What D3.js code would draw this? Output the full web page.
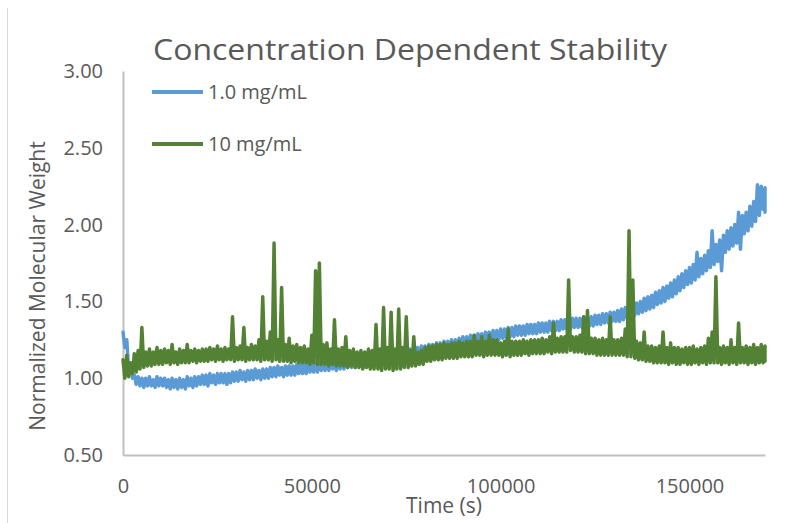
<!DOCTYPE html>
<html>
<head>
<meta charset="utf-8">
<script src="https://cdn.jsdelivr.net/npm/d3@7"></script>
<style>
  html, body { margin: 0; padding: 0; background: #ffffff; }
  svg { display: block; }
  text { font-family: "Open Sans", "Noto Sans", sans-serif; fill: #595959; }
</style>
</head>
<body>
<svg id="chart" width="800" height="523"></svg>
<script>
// ---- data ----
const chartTitle = "Concentration Dependent Stability";
const xAxisTitle = "Time (s)";
const yAxisTitle = "Normalized Molecular Weight";
const seriesNames = ["1.0 mg/mL", "10 mg/mL"];
const xTicks = [0, 50000, 100000, 150000];
const yTicks = [0.50, 1.00, 1.50, 2.00, 2.50, 3.00];
const binSeconds = 1000; // each entry = high / low of the noisy signal in a 1000 s bin

// 1.0 mg/mL : band high and low per 1000 s bin, 0 .. 170000 s
const blueHigh = [
  1.30, 1.25, 1.08, 1.02, 1.01, 1.00, 1.00, 1.01, 0.99, 1.01,
  1.00, 1.00, 0.99, 1.00, 0.99, 1.00, 0.99, 1.01, 1.00, 1.01,
  1.01, 1.02, 1.02, 1.03, 1.02, 1.03, 1.03, 1.03, 1.03, 1.04,
  1.04, 1.05, 1.04, 1.05, 1.05, 1.06, 1.05, 1.06, 1.06, 1.07,
  1.07, 1.08, 1.07, 1.08, 1.08, 1.08, 1.09, 1.09, 1.09, 1.10,
  1.10, 1.10, 1.11, 1.11, 1.11, 1.12, 1.11, 1.12, 1.12, 1.13,
  1.13, 1.13, 1.14, 1.14, 1.14, 1.15, 1.15, 1.15, 1.16, 1.16,
  1.16, 1.17, 1.17, 1.18, 1.18, 1.19, 1.19, 1.20, 1.20, 1.21,
  1.21, 1.22, 1.22, 1.23, 1.23, 1.24, 1.24, 1.25, 1.25, 1.26,
  1.27, 1.27, 1.28, 1.28, 1.29, 1.29, 1.30, 1.30, 1.31, 1.31,
  1.32, 1.32, 1.33, 1.33, 1.34, 1.34, 1.34, 1.35, 1.35, 1.35,
  1.36, 1.36, 1.36, 1.37, 1.37, 1.37, 1.38, 1.38, 1.38, 1.39,
  1.39, 1.39, 1.40, 1.40, 1.40, 1.41, 1.41, 1.42, 1.42, 1.43,
  1.43, 1.44, 1.45, 1.46, 1.47, 1.48, 1.49, 1.50, 1.52, 1.53,
  1.54, 1.56, 1.57, 1.59, 1.60, 1.62, 1.64, 1.66, 1.68, 1.70,
  1.72, 1.74, 1.82, 1.78, 1.80, 1.83, 1.96, 1.87, 1.90, 1.93,
  1.96, 1.98, 2.00, 2.08, 2.06, 2.08, 2.12, 2.15, 2.26, 2.25,
  2.24
];
const blueLow = [
  1.20, 1.05, 1.00, 0.96, 0.95, 0.94, 0.95, 0.95, 0.94, 0.95,
  0.95, 0.94, 0.93, 0.94, 0.93, 0.94, 0.93, 0.95, 0.94, 0.95,
  0.96, 0.96, 0.95, 0.97, 0.96, 0.97, 0.97, 0.96, 0.97, 0.98,
  0.98, 0.99, 0.98, 0.99, 0.99, 1.00, 0.99, 1.00, 1.00, 1.01,
  1.01, 1.02, 1.01, 1.02, 1.02, 1.02, 1.03, 1.03, 1.03, 1.04,
  1.04, 1.04, 1.05, 1.05, 1.05, 1.06, 1.05, 1.06, 1.06, 1.07,
  1.07, 1.07, 1.08, 1.08, 1.08, 1.09, 1.09, 1.09, 1.10, 1.10,
  1.10, 1.11, 1.11, 1.12, 1.12, 1.13, 1.13, 1.14, 1.14, 1.15,
  1.15, 1.16, 1.16, 1.17, 1.17, 1.18, 1.18, 1.19, 1.19, 1.20,
  1.21, 1.21, 1.22, 1.22, 1.23, 1.23, 1.24, 1.24, 1.25, 1.25,
  1.26, 1.26, 1.27, 1.27, 1.28, 1.28, 1.28, 1.29, 1.29, 1.29,
  1.30, 1.30, 1.30, 1.31, 1.31, 1.31, 1.32, 1.32, 1.32, 1.33,
  1.33, 1.33, 1.34, 1.34, 1.34, 1.35, 1.35, 1.36, 1.36, 1.37,
  1.37, 1.37, 1.38, 1.39, 1.40, 1.41, 1.42, 1.43, 1.44, 1.45,
  1.46, 1.48, 1.49, 1.50, 1.52, 1.53, 1.55, 1.57, 1.59, 1.61,
  1.62, 1.64, 1.66, 1.68, 1.70, 1.72, 1.74, 1.76, 1.70, 1.82,
  1.84, 1.86, 1.88, 1.84, 1.94, 1.96, 1.99, 2.02, 2.06, 2.10,
  2.08
];

// 10 mg/mL : band high and low per 1000 s bin, 0 .. 170000 s
const greenHigh = [
  1.12, 1.15, 1.10, 1.16, 1.18, 1.33, 1.17, 1.19, 1.17, 1.20,
  1.18, 1.19, 1.18, 1.22, 1.17, 1.19, 1.18, 1.22, 1.18, 1.19,
  1.18, 1.19, 1.19, 1.20, 1.19, 1.21, 1.19, 1.20, 1.19, 1.40,
  1.20, 1.21, 1.33, 1.20, 1.22, 1.21, 1.25, 1.53, 1.24, 1.30,
  1.88, 1.25, 1.59, 1.22, 1.26, 1.21, 1.22, 1.20, 1.21, 1.19,
  1.28, 1.70, 1.75, 1.22, 1.23, 1.19, 1.38, 1.19, 1.20, 1.27,
  1.18, 1.19, 1.17, 1.18, 1.17, 1.19, 1.18, 1.35, 1.19, 1.46,
  1.20, 1.43, 1.19, 1.45, 1.20, 1.40, 1.18, 1.27, 1.17, 1.18,
  1.20, 1.21, 1.21, 1.22, 1.22, 1.23, 1.22, 1.23, 1.23, 1.24,
  1.23, 1.24, 1.24, 1.28, 1.24, 1.27, 1.24, 1.28, 1.25, 1.25,
  1.23, 1.24, 1.32, 1.24, 1.24, 1.24, 1.25, 1.24, 1.25, 1.25,
  1.25, 1.26, 1.25, 1.27, 1.36, 1.26, 1.27, 1.27, 1.64, 1.27,
  1.27, 1.28, 1.40, 1.44, 1.26, 1.26, 1.25, 1.26, 1.25, 1.40,
  1.25, 1.25, 1.26, 1.32, 1.96, 1.64, 1.24, 1.23, 1.30, 1.21,
  1.21, 1.20, 1.21, 1.30, 1.20, 1.23, 1.20, 1.20, 1.19, 1.20,
  1.20, 1.21, 1.19, 1.20, 1.21, 1.26, 1.30, 1.66, 1.20, 1.21,
  1.20, 1.25, 1.20, 1.36, 1.20, 1.21, 1.20, 1.22, 1.20, 1.22,
  1.21
];
const greenLow = [
  1.00, 1.01, 1.03, 1.04, 1.06, 1.07, 1.08, 1.08, 1.09, 1.09,
  1.09, 1.10, 1.09, 1.10, 1.09, 1.10, 1.10, 1.10, 1.11, 1.10,
  1.11, 1.11, 1.11, 1.12, 1.11, 1.12, 1.11, 1.12, 1.12, 1.11,
  1.12, 1.12, 1.11, 1.12, 1.12, 1.12, 1.11, 1.12, 1.12, 1.11,
  1.12, 1.11, 1.11, 1.11, 1.10, 1.11, 1.10, 1.10, 1.10, 1.09,
  1.10, 1.09, 1.09, 1.09, 1.08, 1.09, 1.08, 1.08, 1.08, 1.07,
  1.08, 1.07, 1.07, 1.06, 1.07, 1.06, 1.06, 1.06, 1.05, 1.06,
  1.06, 1.05, 1.06, 1.06, 1.07, 1.07, 1.08, 1.08, 1.09, 1.09,
  1.11, 1.11, 1.12, 1.12, 1.12, 1.13, 1.13, 1.13, 1.13, 1.14,
  1.14, 1.14, 1.14, 1.15, 1.15, 1.14, 1.15, 1.15, 1.15, 1.15,
  1.14, 1.15, 1.14, 1.15, 1.15, 1.15, 1.16, 1.15, 1.16, 1.16,
  1.16, 1.16, 1.17, 1.16, 1.17, 1.17, 1.17, 1.17, 1.18, 1.17,
  1.17, 1.17, 1.16, 1.16, 1.16, 1.15, 1.15, 1.15, 1.15, 1.15,
  1.15, 1.15, 1.15, 1.14, 1.14, 1.13, 1.12, 1.12, 1.11, 1.11,
  1.10, 1.10, 1.10, 1.10, 1.09, 1.10, 1.09, 1.09, 1.10, 1.09,
  1.09, 1.10, 1.09, 1.10, 1.09, 1.10, 1.10, 1.10, 1.09, 1.10,
  1.09, 1.10, 1.09, 1.10, 1.10, 1.09, 1.10, 1.09, 1.10, 1.10,
  1.11
];

const seriesColors = ["#5B9BD5", "#548235"];

// ---- drawing ----
const svg = d3.select("#chart");
const xMax = 170000;
const x = d3.scaleLinear().domain([0, xMax]).range([123, 765]);
const y = d3.scaleLinear().domain([0.5, 3.0]).range([455, 71]);

// outer chart border (left edge visible in the crop)
svg.append("line")
  .attr("x1", 7.5).attr("x2", 7.5).attr("y1", 8).attr("y2", 523)
  .attr("stroke", "#d9d9d9").attr("stroke-width", 1);

// title
svg.append("text")
  .attr("x", 410).attr("y", 60)
  .attr("text-anchor", "middle")
  .attr("font-size", 30)
  .attr("textLength", 514)
  .attr("lengthAdjust", "spacingAndGlyphs")
  .text(chartTitle);

// axes
const yAxis = d3.axisLeft(y)
  .tickValues(yTicks)
  .tickFormat(d3.format(".2f"))
  .tickSize(0)
  .tickPadding(20);
const xAxis = d3.axisBottom(x)
  .tickValues(xTicks)
  .tickFormat(d3.format("d"))
  .tickSize(0)
  .tickPadding(24);

const gy = svg.append("g").attr("transform", "translate(123,0)").call(yAxis);
const gx = svg.append("g").attr("transform", "translate(0,455)").call(xAxis);
[gy, gx].forEach(g => {
  g.select(".domain").attr("stroke", "#bfbfbf").attr("stroke-width", 2);
  g.selectAll("text")
    .attr("font-family", "'Open Sans', sans-serif")
    .attr("font-size", 20)
    .attr("fill", "#595959");
});

// axis titles
svg.append("text")
  .attr("x", 444).attr("y", 513)
  .attr("text-anchor", "middle")
  .attr("font-size", 21)
  .text(xAxisTitle);

svg.append("text")
  .attr("transform", "translate(45,286) rotate(-90)")
  .attr("text-anchor", "middle")
  .attr("font-size", 21)
  .text(yAxisTitle);

// series: the noisy signal drawn as a dense trace through each bin's high and low
function trace(high, low) {
  const pts = [];
  high.forEach((h, i) => {
    pts.push([i * binSeconds, h]);
    pts.push([Math.min(i * binSeconds + binSeconds / 2, xMax), low[i]]);
  });
  return pts;
}
const line = d3.line()
  .x(d => x(d[0]))
  .y(d => y(d[1]));

const plot = svg.append("g");
[[blueHigh, blueLow], [greenHigh, greenLow]].forEach(([hi, lo], k) => {
  plot.append("path")
    .datum(trace(hi, lo))
    .attr("fill", "none")
    .attr("stroke", seriesColors[k])
    .attr("stroke-width", 3.5)
    .attr("stroke-linejoin", "round")
    .attr("stroke-linecap", "round")
    .attr("d", line);
});

// legend
const legendY = [92, 144];
seriesNames.forEach((name, k) => {
  const g = svg.append("g");
  g.append("line")
    .attr("x1", 152).attr("x2", 203)
    .attr("y1", legendY[k]).attr("y2", legendY[k])
    .attr("stroke", seriesColors[k]).attr("stroke-width", 4);
  g.append("text")
    .attr("x", 208).attr("y", legendY[k])
    .attr("dy", "0.35em")
    .attr("font-size", 20)
    .text(name);
});
</script>
</body>
</html>
